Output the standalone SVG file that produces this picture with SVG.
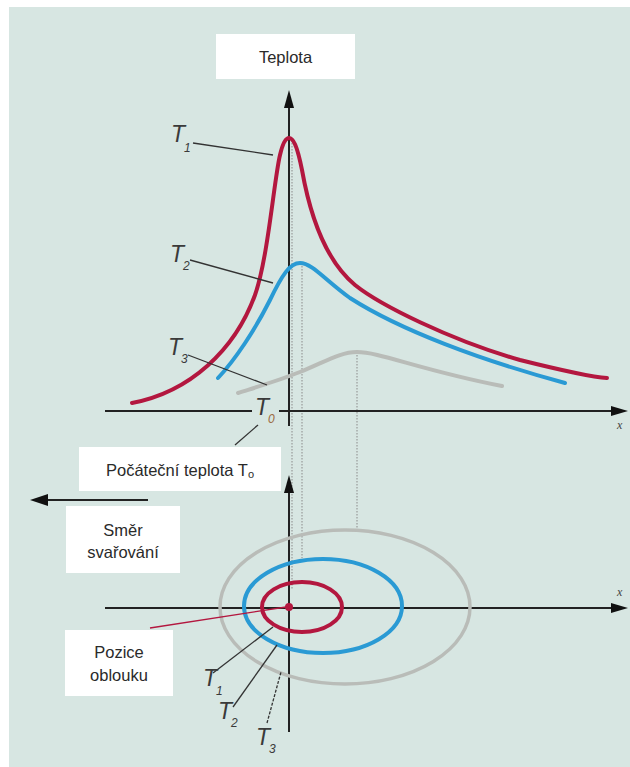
<svg xmlns="http://www.w3.org/2000/svg" width="630" height="767" viewBox="0 0 630 767">
<style>
.box{fill:#ffffff;stroke:none}
.lbl{font-family:"Liberation Sans","DejaVu Sans",sans-serif;font-size:16.5px;fill:#2a2a2a;text-anchor:middle}
.tl{font-family:"Liberation Sans","DejaVu Sans",sans-serif;font-style:italic;font-size:23px;fill:#3a3a3a}
.tl .sub{font-size:12px}
.axis{stroke:#222;stroke-width:2;fill:none}
.head{fill:#111}
.lead{stroke:#333;stroke-width:1.3;fill:none}
.dot{stroke:#8a8a8a;stroke-width:1;stroke-dasharray:1.5 1.5;fill:none}
.c1{stroke:#b3173f;stroke-width:4;fill:none;stroke-linecap:round}
.c2{stroke:#2a9ad4;stroke-width:4;fill:none;stroke-linecap:round}
.c3{stroke:#b9bcb8;stroke-width:4;fill:none;stroke-linecap:round}
.xl{font-family:"Liberation Serif",serif;font-style:italic;font-size:12px;fill:#444}
</style>
<rect x="9" y="7" width="621" height="760" fill="#d7e6e2"/>

<g id="dotted-lines">
<line class="dot" x1="292" y1="140" x2="292" y2="590"/>
<line class="dot" x1="302" y1="263" x2="302" y2="558"/>
<line class="dot" x1="357" y1="352" x2="357" y2="530"/>
</g>

<g id="axes">
<line class="axis" x1="289" y1="426" x2="289" y2="104"/>
<polygon class="head" points="289,90 284,108 294,108"/>
<line class="axis" x1="105" y1="411" x2="252" y2="411"/>
<line class="axis" x1="279" y1="411" x2="614" y2="411"/>
<polygon class="head" points="628,411 611,406 611,416"/>
<text class="xl" x="617" y="429">x</text>
<line class="axis" x1="289" y1="732" x2="289" y2="489"/>
<polygon class="head" points="289,475 284,493 294,493"/>
<line class="axis" x1="105" y1="608" x2="614" y2="608"/>
<polygon class="head" points="628,608 611,603 611,613"/>
<text class="xl" x="617" y="596">x</text>
</g>

<g id="curves">
<path class="c3" d="M238,393 C260,386 280,380 300,372 C325,362 340,352 357,352 C380,352 420,370 502,386"/>
<path class="c2" d="M218,378 C235,360 255,330 270,300 C282,275 290,263 300,263 C312,263 325,280 350,298 C400,330 480,360 565,383"/>
<path class="c1" d="M132,403 C190,392 235,350 255,295 C268,258 274,180 280,155 C283,142 286,138 289,138 C293,138 297,145 302,170 C310,215 325,260 355,285 C380,305 450,340 520,360 C560,370 590,377 607,378"/>
</g>

<g id="ellipses">
<ellipse cx="345" cy="607" rx="125" ry="77" fill="none" stroke="#b9bcb8" stroke-width="3.5"/>
<ellipse cx="323" cy="606" rx="79" ry="47" fill="none" stroke="#2a9ad4" stroke-width="4"/>
<ellipse cx="302" cy="607" rx="40" ry="25" fill="none" stroke="#b3173f" stroke-width="4"/>
<circle cx="289" cy="607" r="4" fill="#b3173f"/>
</g>

<g id="connectors">
<line class="lead" x1="193" y1="143" x2="273" y2="155"/>
<line class="lead" x1="190" y1="260" x2="273" y2="283"/>
<line class="lead" x1="188" y1="355" x2="267" y2="385"/>
<line class="lead" x1="258" y1="425" x2="235" y2="445"/>
<line x1="150" y1="628" x2="286" y2="607" stroke="#b3173f" stroke-width="1.3"/>
<line class="lead" x1="213" y1="673" x2="273" y2="627"/>
<line class="lead" x1="233" y1="707" x2="277" y2="645"/>
<line class="lead" x1="267" y1="723" x2="281" y2="672" stroke-dasharray="3 1.5"/>
<line class="axis" x1="148" y1="500" x2="45" y2="500"/>
<polygon class="head" points="30,500 48,494 48,506"/>
</g>

<g id="node-teplota">
<rect class="box" x="216" y="34" width="139" height="45"/>
<text class="lbl" x="285.5" y="63">Teplota</text>
</g>

<g id="node-pocatecni">
<rect class="box" x="79" y="447" width="202" height="44"/>
<text class="lbl" x="180" y="476">Počáteční teplota T<tspan font-size="11px" dy="2">o</tspan></text>
</g>

<g id="node-smer">
<rect class="box" x="66" y="506" width="114" height="67"/>
<text class="lbl" x="123" y="536">Směr</text>
<text class="lbl" x="123" y="558">svařování</text>
</g>

<g id="node-pozice">
<rect class="box" x="65" y="630" width="108" height="66"/>
<text class="lbl" x="119" y="658">Pozice</text>
<text class="lbl" x="119" y="681">oblouku</text>
</g>

<g id="labels-top">
<text class="tl" x="171" y="142">T<tspan class="sub" dx="-1" dy="10">1</tspan></text>
<text class="tl" x="170" y="262">T<tspan class="sub" dx="-1" dy="8">2</tspan></text>
<text class="tl" x="168" y="355">T<tspan class="sub" dx="-1" dy="8">3</tspan></text>
<text class="tl" x="255" y="415">T<tspan class="sub" dx="-1" dy="8" fill="#9a6a40">0</tspan></text>
</g>

<g id="labels-bottom">
<text class="tl" x="203" y="686">T<tspan class="sub" dx="-1" dy="9">1</tspan></text>
<text class="tl" x="218" y="719">T<tspan class="sub" dx="-1" dy="8">2</tspan></text>
<text class="tl" x="256" y="745">T<tspan class="sub" dx="-1" dy="8">3</tspan></text>
</g>
</svg>
